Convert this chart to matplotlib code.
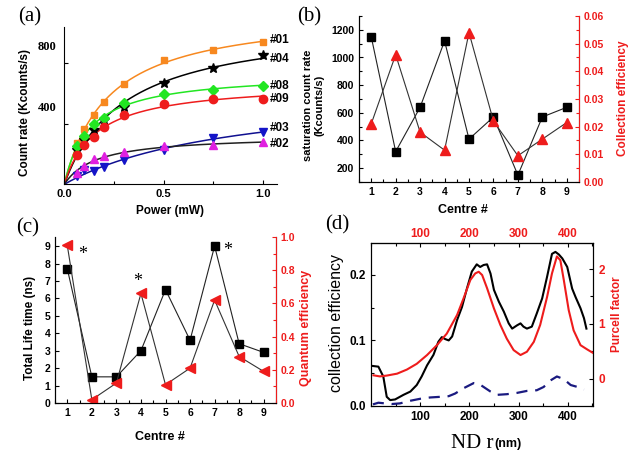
import numpy as np
import matplotlib
matplotlib.use('Agg')
import matplotlib.pyplot as plt
from matplotlib.ticker import MultipleLocator
import matplotlib.transforms as mtransforms

plt.rcParams['font.family'] = ['Liberation Sans', 'DejaVu Sans']
plt.rcParams['font.weight'] = 'bold'
plt.rcParams['axes.linewidth'] = 0.8

# ---------------- data ----------------
# (a) count rate vs power
power = [0.065, 0.1, 0.15, 0.2, 0.3, 0.5, 0.75, 1.0]
rate_01 = [273, 367, 458, 542, 660, 822, 891, 938]
rate_04 = [229, 296, 356, 424, 513, 667, 767, 856]
rate_08 = [251, 318, 400, 440, 536, 600, 624, 647]
rate_09 = [196, 258, 313, 378, 460, 529, 562, 564]
rate_03 = [56, 96, 91, 113, 162, 224, 304, 349]
rate_02 = [73, 124, 167, 184, 213, 251, 258, 278]
names_a = ['#01', '#04', '#08', '#09', '#03', '#02']
label_y_a = [955, 829, 648, 561, 375, 268]

# (b) saturation count rate & collection efficiency
centre = [1, 2, 3, 4, 5, 6, 7, 8, 9]
sat_rate = [1150, 320, 640, 1120, 410, 570, 150, 570, 640]
coll_eff = [0.021, 0.046, 0.018, 0.0115, 0.054, 0.022, 0.0095, 0.0155, 0.0215]

# (c) lifetime & quantum efficiency
lifetime = [7.7, 1.5, 1.5, 3.0, 6.5, 3.6, 9.0, 3.4, 2.9]
quantum_eff = [0.95, 0.02, 0.12, 0.66, 0.11, 0.21, 0.62, 0.28, 0.19]
star_x = [1.64, 3.86, 7.54]
star_y = [8.8, 7.24, 9.02]

# (d) vs ND radius
r_black = [4, 15, 25, 32, 39, 49, 66, 80, 93, 103, 114, 127, 137, 144, 151, 158, 165,
           175, 185, 195, 205, 215, 222, 229, 236, 243, 250, 260, 270, 280, 287, 297,
           304, 310, 317, 327, 337, 348, 358, 368, 375, 382, 389, 399, 409, 416, 426,
           433, 438]
ce_black = [0.061, 0.060, 0.045, 0.014, 0.009, 0.010, 0.017, 0.022, 0.032, 0.045, 0.062,
            0.078, 0.098, 0.105, 0.102, 0.100, 0.106, 0.131, 0.151, 0.179, 0.205, 0.216,
            0.212, 0.215, 0.216, 0.202, 0.177, 0.159, 0.144, 0.126, 0.118, 0.123, 0.126,
            0.121, 0.118, 0.121, 0.141, 0.164, 0.197, 0.232, 0.235, 0.231, 0.225, 0.212,
            0.179, 0.166, 0.149, 0.134, 0.118]
r_red = [5, 18, 32, 53, 73, 93, 114, 134, 154, 175, 188, 202, 212, 219, 226, 236, 250,
         263, 276, 290, 304, 317, 331, 344, 358, 368, 378, 385, 392, 402, 412, 426, 440,
         453]
purcell = [0.06, 0.04, 0.055, 0.09, 0.165, 0.27, 0.43, 0.61, 0.82, 1.16, 1.46, 1.80,
           1.92, 1.95, 1.89, 1.65, 1.28, 0.98, 0.73, 0.52, 0.43, 0.49, 0.67, 0.98, 1.49,
           1.92, 2.23, 2.16, 1.80, 1.25, 0.88, 0.61, 0.53, 0.46]
r_blue = [4, 15, 42, 59, 80, 100, 120, 141, 158, 171, 188, 209, 219, 229, 243, 256, 276,
          297, 317, 337, 351, 365, 378, 392, 406, 420, 433]
ce_blue = [0.0025, 0.005, 0.003, 0.004, 0.008, 0.011, 0.013, 0.014, 0.015, 0.019, 0.027,
           0.035, 0.034, 0.029, 0.022, 0.017, 0.018, 0.020, 0.023, 0.024, 0.029, 0.039,
           0.045, 0.041, 0.032, 0.029, 0.025]

W, H = 640, 454
fig = plt.figure(figsize=(W / 100, H / 100), dpi=100)


def axes_px(left, top, right, bottom):
    return fig.add_axes([left / W, 1 - bottom / H, (right - left) / W, (bottom - top) / H])


def ftext(x, y, s, **kw):
    fig.text(x / W, 1 - y / H, s, ha='center', va='center', **kw)


RED = '#ee1c1c'

# ---------------- (a) ----------------
axa = axes_px(64.3, 27, 277, 184.3)
for s in ['top', 'right']:
    axa.spines[s].set_visible(False)

def sat_fit(p, y):
    p = np.asarray(p, float)
    y = np.asarray(y, float)
    best = None
    for ps in np.linspace(0.01, 5, 2500):
        f = p / (p + ps)
        isat = (f @ y) / (f @ f)
        res = np.sum((y - isat * f) ** 2)
        if best is None or res < best[0]:
            best = (res, isat, ps)
    return best[1], best[2]

series_a = [
    (rate_01, '#f7881f', '#f7881f', 's', 5),
    (rate_04, 'black', 'black', '*', 7),
    (rate_08, '#22e622', '#22e622', 'D', 5),
    (rate_09, '#ee1c1c', '#ee1c1c', 'o', 6),
    (rate_03, '#1414c8', '#101090', 'v', 6),
    (rate_02, '#e020e0', '#202020', '^', 6),
]
pp = np.linspace(0, 1.0, 300)
for vals, mcol, lcol, mk, ms in series_a:
    isat, ps = sat_fit(power, vals)
    axa.plot(pp, isat * pp / (pp + ps), color=lcol, lw=1.1, zorder=2)
    axa.plot(power, vals, ls='none', marker=mk, color=mcol, ms=ms, zorder=3)
for nm, ly in zip(names_a, label_y_a):
    axa.text(1.035, ly, nm, fontsize=8.5, ha='left', va='center', clip_on=False)

axa.set_xlim(0, 1.07)
axa.set_ylim(0, 1040)
axa.set_xticks([0, 0.5, 1.0])
axa.set_xticklabels(['0.0', '0.5', '1.0'])
axa.xaxis.set_minor_locator(MultipleLocator(0.25))
axa.set_yticks([400, 800])
axa.set_yticklabels([])
axa.tick_params(direction='in', length=3, width=0.8, labelsize=8)
axa.tick_params(which='minor', direction='in', length=2, width=0.8)
trans = mtransforms.blended_transform_factory(axa.transAxes, axa.transData) + \
    mtransforms.ScaledTranslation(0, 0.16, fig.dpi_scale_trans)
for v in [400, 800]:
    axa.text(-0.035, v, str(v), transform=trans, ha='right', va='center',
             fontsize=9, family='Liberation Serif', fontweight='bold')
ftext(25, 113, 'Count rate (Kcounts/s)', rotation=90, fontsize=8.5)
ftext(170, 211, 'Power (mW)', fontsize=8.5)

# ---------------- (b) ----------------
axb = axes_px(359, 16, 579, 182)
axb.spines['top'].set_visible(False)
axb.plot(centre, sat_rate, color='#222222', lw=0.8, marker='s', ms=5.5,
         mfc='black', mec='black')
axb.set_xlim(0.5, 9.5)
axb.set_ylim(100, 1300)
axb.set_xticks(centre)
axb.xaxis.set_minor_locator(MultipleLocator(0.5))
axb.set_yticks([200, 400, 600, 800, 1000, 1200])
axb.yaxis.set_minor_locator(MultipleLocator(100))
axb.tick_params(direction='in', length=3, width=0.8, labelsize=7.5)
axb.tick_params(which='minor', direction='in', length=2, width=0.8)
axb2 = axb.twinx()
axb2.spines['top'].set_visible(False)
axb2.spines['right'].set_color(RED)
axb2.plot(centre, coll_eff, color='#333333', lw=0.8, marker='^', ms=6.5,
          mfc=RED, mec=RED)
axb2.set_ylim(0, 0.06)
axb2.set_yticks([0, 0.01, 0.02, 0.03, 0.04, 0.05, 0.06])
axb2.set_yticklabels(['0.00', '0.01', '0.02', '0.03', '0.04', '0.05', '0.06'])
axb2.yaxis.set_minor_locator(MultipleLocator(0.005))
axb2.tick_params(axis='y', direction='in', length=3, width=0.8, labelsize=7.5,
                 colors=RED)
axb2.tick_params(axis='y', which='minor', direction='in', length=2, width=0.8,
                 colors=RED)
ftext(314, 105, 'saturation count rate\n(Kcounts/s)', rotation=90, fontsize=8,
      linespacing=1.15)
ftext(623, 98, 'Collection efficiency', rotation=90, fontsize=8.5, color=RED)
ftext(463, 210, 'Centre #', fontsize=9)

# ---------------- (c) ----------------
axc = axes_px(55, 237, 276, 403)
axc.spines['top'].set_visible(False)
axc.plot(centre, lifetime, color='#222222', lw=0.8, marker='s', ms=5.5,
         mfc='black', mec='black', zorder=3)
axc.set_xlim(0.5, 9.5)
axc.set_ylim(0, 9.52)
axc.set_xticks(centre)
axc.xaxis.set_minor_locator(MultipleLocator(0.5))
axc.set_yticks(range(10))
axc.tick_params(direction='in', length=3, width=0.8, labelsize=7.5)
axc.tick_params(which='minor', direction='in', length=2, width=0.8)
star_trans = axc.transData + mtransforms.ScaledTranslation(0, -0.05, fig.dpi_scale_trans)
for sx, sy in zip(star_x, star_y):
    axc.text(sx, sy, '*', fontsize=13, ha='center', va='center', transform=star_trans,
             family='Liberation Serif', fontweight='normal')
axc2 = axc.twinx()
axc2.spines['top'].set_visible(False)
axc2.spines['right'].set_color(RED)
axc2.plot(centre, quantum_eff, color='#333333', lw=0.8, marker='<', ms=6.5,
          mfc=RED, mec=RED)
axc2.set_ylim(0, 1.0)
axc2.set_yticks([0, 0.2, 0.4, 0.6, 0.8, 1.0])
axc2.yaxis.set_minor_locator(MultipleLocator(0.1))
axc2.tick_params(axis='y', direction='in', length=3, width=0.8, labelsize=7.5,
                 colors=RED)
axc2.tick_params(axis='y', which='minor', direction='in', length=2, width=0.8,
                 colors=RED)
ftext(30, 328, 'Total Life time (ns)', rotation=90, fontsize=8.5)
ftext(306, 328, 'Quantum efficiency', rotation=90, fontsize=9, color=RED)
ftext(160, 437, 'Centre #', fontsize=9)

# ---------------- (d) ----------------
axd = axes_px(371, 242.7, 593.3, 406)
axd.plot(r_black, ce_black, color='black', lw=1.5, zorder=3)
axd.plot(r_blue, ce_blue, color='#1a1a80', lw=1.6, ls=(0, (5, 3.5)), zorder=2)
axd.set_xlim(0, 452)
axd.set_ylim(0, 0.249)
axd.set_xticks([100, 200, 300, 400])
axd.xaxis.set_minor_locator(MultipleLocator(50))
axd.set_yticks([0, 0.1, 0.2])
axd.set_yticklabels(['0.0', '0.1', '0.2'])
axd.yaxis.set_minor_locator(MultipleLocator(0.05))
axd.tick_params(direction='in', length=3, width=0.8, labelsize=8.5)
axd.tick_params(which='minor', direction='in', length=2, width=0.8)
axd2 = axd.twinx()
axd2.plot(r_red, purcell, color=RED, lw=1.5, zorder=4)
axd2.set_ylim(-0.5, 2.48)
axd2.set_yticks([0, 1, 2])
axd2.yaxis.set_minor_locator(MultipleLocator(0.5))
axd2.tick_params(axis='y', direction='in', length=3, width=0.8, labelsize=8.5,
                 labelcolor=RED)
axd2.tick_params(axis='y', which='minor', direction='in', length=2, width=0.8)
axd3 = axd.secondary_xaxis('top')
axd3.set_xticks([100, 200, 300, 400])
axd3.xaxis.set_minor_locator(MultipleLocator(50))
axd3.tick_params(direction='in', length=3, width=0.8, labelsize=8.5,
                 labelcolor=RED, pad=2)
axd3.tick_params(which='minor', direction='in', length=2, width=0.8)
ftext(336, 323, 'collection efficiency', rotation=90, fontsize=11.5,
      fontweight='normal')
ftext(617, 314, 'Purcell factor', rotation=90, fontsize=8.5, color=RED)
ftext(472, 443, 'ND r', fontsize=15, family='Liberation Serif', fontweight='normal')
ftext(508, 444, '(nm)', fontsize=9)

# panel labels
for lab, x, y in [('(a)', 30, 17), ('(b)', 309, 17), ('(c)', 28, 228), ('(d)', 337, 225)]:
    ftext(x, y, lab, fontsize=15, family='Liberation Serif', fontweight='normal')

fig.savefig('out.png', dpi=100)
